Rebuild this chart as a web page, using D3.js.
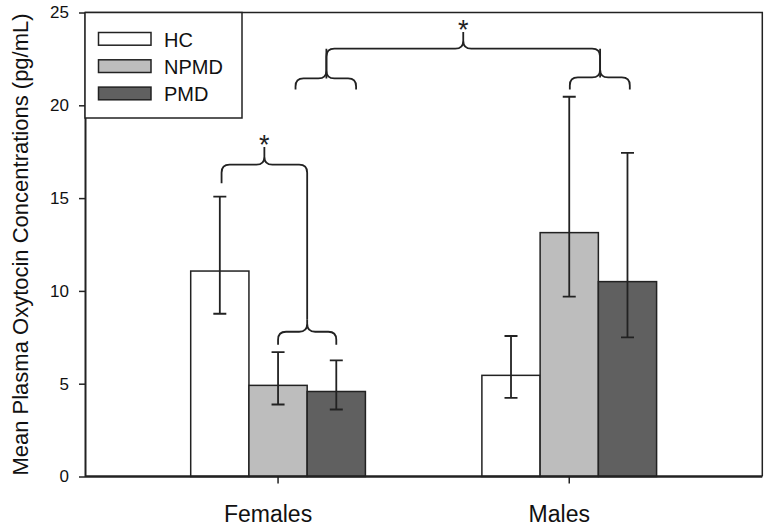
<!DOCTYPE html>
<html><head><meta charset="utf-8">
<script src="https://cdnjs.cloudflare.com/ajax/libs/d3/7.8.5/d3.min.js"></script>
<style>
html,body{margin:0;padding:0;background:#fff;}
svg{display:block;font-family:"Liberation Sans",Arial,sans-serif;}
</style></head>
<body><svg id="chart" width="767" height="529"></svg>
<script>
// ---- data ----
const groups = ["Females", "Males"];
const series = ["HC", "NPMD", "PMD"];
const colors = ["#ffffff", "#bdbdbd", "#606060"];
const means = { Females: [11.07, 4.91, 4.58], Males: [5.45, 13.14, 10.50] };
const errUpper = { Females: [15.08, 6.70, 6.26], Males: [7.57, 20.46, 17.44] };
const errLower = { Females: [8.77, 3.88, 3.61], Males: [4.24, 9.69, 7.50] };
const yTicks = [0, 5, 10, 15, 20, 25];
const yLabel = "Mean Plasma Oxytocin Concentrations (pg/mL)";
// significance braces: x positions as (group, offset in bar widths from group centre), y in data units
const braces = [
  { g: "Females", xl: -0.97, xr: 0.5, yH: 16.8, yPeak: 17.75, endL: 15.8, endR: 8.45, star: true },
  { g: "Females", xl: 0.0, xr: 1.0, yH: 7.8, yPeak: 8.45, endL: 7.1, endR: 7.1, star: false },
  { g: "Females", xl: 0.30, xr: 1.34, xc: 0.83, yH: 21.45, yPeak: 23.05, endL: 20.85, endR: 20.85, star: false },
  { g: "Males", xl: 0.01, xr: 1.04, xc: 0.53, yH: 21.5, yPeak: 23.05, endL: 20.85, endR: 20.85, star: false }
];
const bigBrace = { gl: "Females", ol: 0.83, gr: "Males", or: 0.53, yH: 23.05, yPeak: 23.95, endL: 21.45, endR: 21.5, star: true };

// ---- layout ----
const W = 767, H = 529;
const m = { l: 85, r: 4.7, t: 12.5, b: 52.5 };
const svg = d3.select("#chart");
const x0 = d3.scaleBand().domain(groups).range([m.l, W - m.r]).paddingInner(0.4).paddingOuter(0.363);
const x1 = d3.scaleBand().domain(series).range([0, x0.bandwidth()]).padding(0);
const y = d3.scaleLinear().domain([0, 25]).range([H - m.b, m.t]);
const color = d3.scaleOrdinal().domain(series).range(colors);
const bw = x1.bandwidth();
const gc = g => x0(g) + x0.bandwidth() / 2;
const ink = "#222";

// frame (top & right)
svg.append("path")
  .attr("d", `M${m.l},${m.t}H${W - m.r}V${H - m.b}`)
  .attr("fill", "none").attr("stroke", ink).attr("stroke-width", 1.5);

// bars
const rows = [];
groups.forEach(g => series.forEach((s, i) => rows.push({ g, s, v: means[g][i], hi: errUpper[g][i], lo: errLower[g][i] })));
svg.append("g").selectAll("rect").data(rows).join("rect")
  .attr("x", d => x0(d.g) + x1(d.s))
  .attr("y", d => y(d.v))
  .attr("width", bw)
  .attr("height", d => y(0) - y(d.v))
  .attr("fill", d => color(d.s))
  .attr("stroke", ink).attr("stroke-width", 1.5);

// error bars
const eb = svg.append("g").attr("stroke", ink).attr("stroke-width", 1.8).attr("fill", "none");
rows.forEach(d => {
  const cx = x0(d.g) + x1(d.s) + bw / 2;
  eb.append("path").attr("d",
    `M${cx},${y(d.lo)}V${y(d.hi)}M${cx - 6.5},${y(d.hi)}H${cx + 6.5}M${cx - 6.5},${y(d.lo)}H${cx + 6.5}`);
});

// axes
const yAxis = svg.append("g").attr("transform", `translate(${m.l},0)`)
  .call(d3.axisLeft(y).tickValues(yTicks).tickSize(6).tickPadding(10).tickSizeOuter(0));
yAxis.select(".domain").attr("stroke", ink).attr("stroke-width", 2);
yAxis.selectAll(".tick line").attr("stroke", ink).attr("stroke-width", 1.5);
yAxis.selectAll("text").attr("font-size", 17).attr("fill", "#111")
  .attr("font-family", "'Liberation Sans',Arial,sans-serif");

const xAxis = svg.append("g").attr("transform", `translate(0,${y(0)})`)
  .call(d3.axisBottom(x0).tickSize(7).tickPadding(22).tickSizeOuter(0));
xAxis.select(".domain").attr("stroke", ink).attr("stroke-width", 2.6)
  .attr("d", `M${m.l},0H${W - m.r}`);
xAxis.selectAll(".tick line").attr("stroke", ink).attr("stroke-width", 1.5);
xAxis.selectAll("text").attr("font-size", 23).attr("fill", "#111").attr("dx", -10)
  .attr("font-family", "'Liberation Sans',Arial,sans-serif");

// y label
svg.append("text")
  .attr("transform", `translate(28,${(m.t + H - m.b) / 2}) rotate(-90)`)
  .attr("text-anchor", "middle").attr("font-size", 22).attr("fill", "#111")
  .text(yLabel);

// braces
const r = 8;
function bracePath(xl, xr, xc, yH, yPeak, endL, endR) {
  const Y = y(yH), P = y(yPeak), EL = y(endL), ER = y(endR);
  return `M${xl},${EL}V${Y + r}Q${xl},${Y} ${xl + r},${Y}H${xc - r}` +
    `Q${xc},${Y} ${xc},${Math.max(P, Y - r)}V${P}M${xc},${Math.max(P, Y - r)}Q${xc},${Y} ${xc + r},${Y}` +
    `H${xr - r}Q${xr},${Y} ${xr},${Y + r}V${ER}`;
}
function star(xc, yPeak) {
  svg.append("text").attr("x", xc).attr("y", y(yPeak) + 7).attr("text-anchor", "middle")
    .attr("font-size", 27).attr("fill", ink).text("*");
}
const bg = svg.append("g").attr("fill", "none").attr("stroke", ink).attr("stroke-width", 1.8);
braces.forEach(b => {
  const xl = gc(b.g) + b.xl * bw, xr = gc(b.g) + b.xr * bw;
  const xc = b.xc !== undefined ? gc(b.g) + b.xc * bw : (xl + xr) / 2;
  bg.append("path").attr("d", bracePath(xl, xr, xc, b.yH, b.yPeak, b.endL, b.endR));
  if (b.star) star(xc, b.yPeak);
});
{
  const xl = gc(bigBrace.gl) + bigBrace.ol * bw, xr = gc(bigBrace.gr) + bigBrace.or * bw;
  const xc = (xl + xr) / 2;
  bg.append("path").attr("d", bracePath(xl, xr, xc, bigBrace.yH, bigBrace.yPeak, bigBrace.endL, bigBrace.endR));
  if (bigBrace.star) star(xc, bigBrace.yPeak);
}

// legend
const lg = svg.append("g");
lg.append("rect").attr("x", m.l).attr("y", m.t).attr("width", 157).attr("height", 105.5)
  .attr("fill", "#fff").attr("stroke", ink).attr("stroke-width", 1.5);
series.forEach((s, i) => {
  const yy = m.t + 20 + i * 27.3;
  lg.append("rect").attr("x", m.l + 13.5).attr("y", yy).attr("width", 52.5).attr("height", 12.7)
    .attr("fill", color(s)).attr("stroke", ink).attr("stroke-width", 1.5);
  lg.append("text").attr("x", m.l + 79).attr("y", yy + 14).attr("font-size", 20).attr("fill", "#111").text(s);
});
</script></body></html>
